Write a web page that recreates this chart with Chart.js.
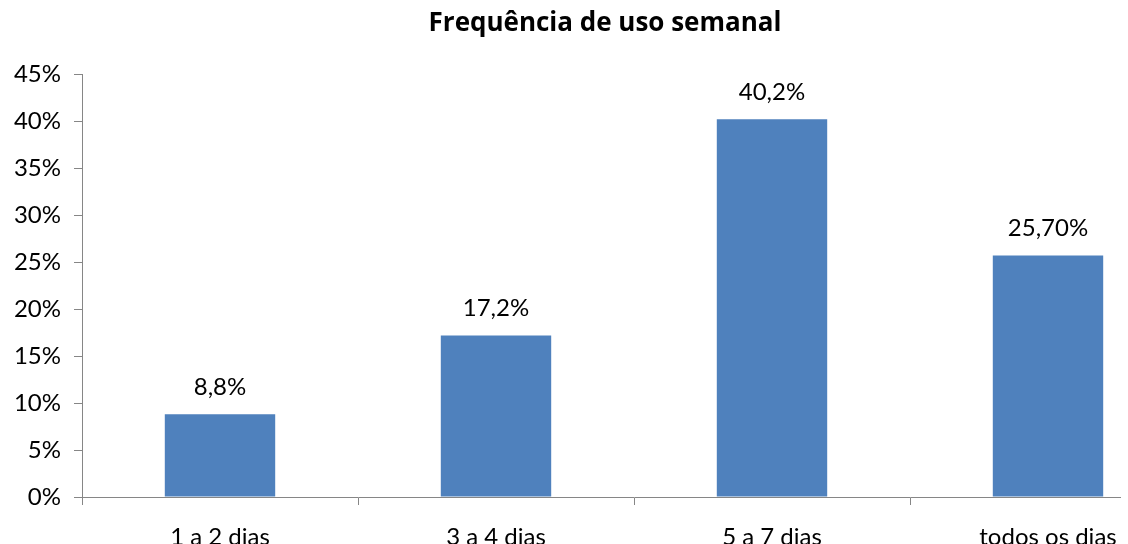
<!DOCTYPE html>
<html>
<head>
<meta charset="utf-8">
<script src="https://cdn.jsdelivr.net/npm/chart.js@4/dist/chart.umd.min.js"></script>
<style>
  html, body { margin: 0; padding: 0; background: #fff; }
  #wrap { width: 1121px; height: 544px; overflow: hidden; position: relative; }
  canvas { display: block; }
</style>
</head>
<body>
<div id="wrap"><canvas id="c" width="1210" height="570"></canvas></div>
<script>
// Weekly usage frequency survey
const categories = ['1 a 2 dias', '3 a 4 dias', '5 a 7 dias', 'todos os dias'];
const shares = [8.8, 17.2, 40.2, 25.7];
const shareLabels = ['8,8%', '17,2%', '40,2%', '25,70%'];
const yTicks = [0, 5, 10, 15, 20, 25, 30, 35, 40, 45];

const FONT = 'Lato, "Open Sans", sans-serif';
const TITLE_FONT = '"Open Sans", Lato, sans-serif';
const AXIS = '#868686';
const BAR = '#4F81BD';

// Writes each bar's value label just above the bar
const barValueLabels = {
  id: 'barValueLabels',
  afterDatasetsDraw(chart) {
    const ctx = chart.ctx;
    const meta = chart.getDatasetMeta(0);
    ctx.save();
    ctx.font = '24px ' + FONT;
    ctx.fillStyle = '#000';
    ctx.textAlign = 'center';
    ctx.textBaseline = 'middle';
    meta.data.forEach((bar, i) => {
      ctx.fillText(shareLabels[i], bar.x, bar.y - 27);
    });
    ctx.restore();
  }
};

new Chart(document.getElementById('c'), {
  type: 'bar',
  data: {
    labels: categories,
    datasets: [{
      data: shares,
      backgroundColor: BAR,
      borderWidth: 0,
      categoryPercentage: 1,
      barPercentage: 0.4
    }]
  },
  options: {
    responsive: false,
    animation: false,
    layout: { padding: 0 },
    plugins: {
      legend: { display: false },
      tooltip: { enabled: false },
      title: {
        display: true,
        text: 'Frequência de uso semanal',
        color: '#000',
        font: { family: TITLE_FONT, size: 26, weight: 'bold', lineHeight: 1.2 },
        padding: { top: 8, bottom: 35 }
      }
    },
    scales: {
      x: {
        offset: true,
        grid: {
          offset: true,
          drawOnChartArea: false,
          drawTicks: true,
          tickLength: 8,
          color: AXIS
        },
        border: { display: true, color: AXIS, width: 1 },
        ticks: {
          color: '#000',
          font: { family: FONT, size: 24 },
          padding: 18,
          maxRotation: 0,
          autoSkip: false
        },
        afterFit(s) { s.height = 73; }
      },
      y: {
        position: 'left',
        min: 0,
        max: 45,
        afterBuildTicks(s) { s.ticks = yTicks.map(v => ({ value: v })); },
        grid: {
          drawOnChartArea: false,
          drawTicks: true,
          tickLength: 8,
          color: AXIS
        },
        border: { display: true, color: AXIS, width: 1 },
        ticks: {
          color: '#000',
          font: { family: FONT, size: 24 },
          padding: 13,
          callback: v => v + '%'
        },
        afterFit(s) { s.width = 82; }
      },
      // empty spacer on the right so the title centres over the full figure
      spacer: {
        type: 'linear',
        position: 'right',
        display: true,
        grid: { display: false },
        border: { display: false },
        ticks: { display: false },
        afterFit(s) { s.width = 24; }
      }
    }
  },
  plugins: [barValueLabels]
});
</script>
</body>
</html>
